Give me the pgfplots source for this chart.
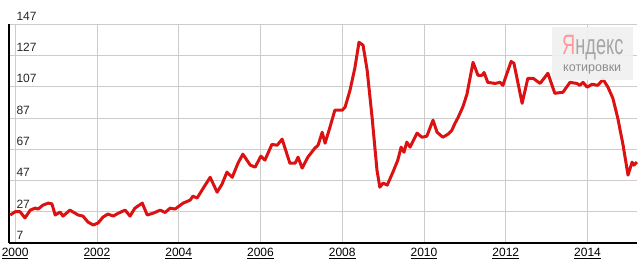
\documentclass[border=0pt]{standalone}
\usepackage{fontspec}
\setmainfont{Liberation Sans}
\usepackage{pgfplots}
\pgfplotsset{compat=1.18}
\definecolor{linered}{RGB}{220,18,18}
\begin{document}
\begin{tikzpicture}
\begin{axis}[
  at={(0,0)}, anchor=south west,
  scale only axis, width=628pt, height=219pt,
  xmin=1999.85, xmax=2015.21, ymin=7, ymax=147,
  axis lines=left,
  axis line style={black, line width=1.3pt, -},
  xtick={2000,2002,2004,2006,2008,2010,2012,2014},
  xticklabels={\underline{2000},\underline{2002},\underline{2004},\underline{2006},\underline{2008},\underline{2010},\underline{2012},\underline{2014}},
  ytick={7,27,47,67,87,107,127,147},
  grid=major,
  major grid style={black!20, line width=0.7pt},
  major tick length=0pt,
  /pgf/number format/assume math mode=true,
  tick label style={font=\fontsize{12}{14}\selectfont, text=black!85},
  yticklabel style={anchor=south west, xshift=4pt},
  xticklabel style={yshift=-2pt, text=black},
  clip=false,
]
\addplot[linered, line width=3pt, line join=round] table {
1999.88 24.9
2000.00 27.0
2000.12 27.0
2000.24 23.0
2000.37 28.0
2000.49 29.3
2000.56 28.7
2000.68 31.2
2000.81 32.5
2000.90 32.0
2000.98 24.9
2001.10 26.8
2001.17 24.2
2001.34 28.0
2001.47 26.0
2001.54 24.9
2001.66 24.2
2001.78 20.4
2001.91 18.5
2002.03 19.8
2002.15 23.6
2002.27 25.5
2002.40 24.2
2002.52 26.0
2002.69 28.0
2002.81 24.2
2002.93 29.3
2003.11 32.5
2003.23 24.9
2003.37 26.0
2003.55 28.0
2003.67 26.5
2003.79 29.3
2003.91 28.7
2004.11 32.5
2004.28 34.4
2004.35 37.0
2004.45 35.7
2004.60 42.0
2004.77 49.0
2004.94 39.5
2005.06 44.6
2005.18 52.3
2005.31 49.0
2005.45 58.0
2005.57 63.8
2005.75 56.8
2005.87 55.5
2006.01 62.5
2006.11 60.0
2006.28 70.0
2006.41 69.5
2006.53 73.4
2006.72 58.0
2006.85 58.0
2006.92 61.9
2007.02 54.9
2007.16 61.9
2007.33 67.6
2007.41 69.5
2007.51 77.8
2007.58 70.8
2007.70 81.0
2007.82 91.9
2008.00 91.9
2008.07 93.8
2008.19 104.6
2008.31 119.0
2008.41 135.3
2008.51 133.4
2008.61 117.4
2008.73 87.4
2008.85 53.6
2008.92 42.7
2009.00 45.3
2009.10 44.0
2009.24 52.3
2009.36 60.0
2009.44 68.3
2009.51 65.0
2009.58 71.5
2009.66 68.3
2009.83 77.2
2009.95 74.6
2010.07 75.3
2010.22 85.5
2010.32 77.8
2010.46 74.6
2010.59 76.6
2010.68 79.0
2010.76 83.6
2010.83 87.0
2010.95 94.0
2011.05 102.0
2011.20 122.5
2011.32 114.2
2011.42 114.2
2011.47 116.0
2011.56 109.7
2011.74 109.0
2011.86 109.7
2011.93 107.8
2012.03 115.5
2012.13 123.0
2012.20 121.9
2012.40 96.3
2012.54 112.3
2012.67 112.3
2012.84 109.0
2013.03 115.5
2013.20 102.7
2013.40 103.4
2013.57 109.7
2013.74 109.0
2013.81 107.8
2013.89 109.7
2013.99 106.6
2014.11 108.5
2014.25 107.8
2014.38 111.6
2014.50 106.6
2014.62 99.5
2014.74 86.8
2014.87 69.5
2014.99 50.4
2015.09 58.7
2015.13 56.8
2015.21 58.7
};
\end{axis}
\fill[black!6, opacity=0.9] (543pt,163pt) rectangle (624pt,216pt);
\node[anchor=base west, inner sep=0pt] at (553pt,188pt)
  {\scalebox{0.65}[1]{\fontsize{28}{28}\selectfont\textcolor{red!40}{Я}\textcolor{black!35}{ндекс}}};
\node[anchor=base west, inner sep=0pt] at (554pt,171pt)
  {\fontsize{12.5}{13}\selectfont\textcolor{black!45}{котировки}};
\pgfresetboundingbox
\path[use as bounding box] (-9pt,-22pt) rectangle (630pt,243pt);
\end{tikzpicture}
\end{document}
